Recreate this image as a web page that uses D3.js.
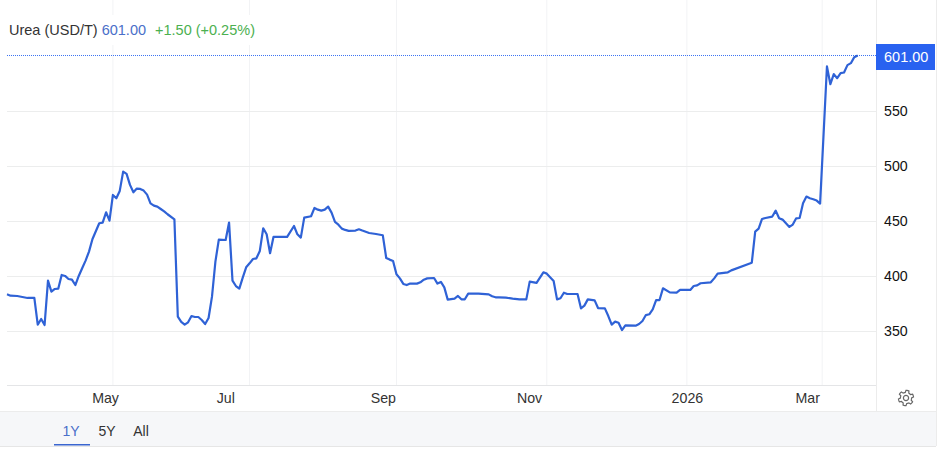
<!DOCTYPE html>
<html>
<head>
<meta charset="utf-8">
<script src="https://cdn.jsdelivr.net/npm/d3@7"></script>
<style>
  html, body { margin: 0; background: #fff; }
  svg { display: block; }
  text { font-family: "Liberation Sans", Arial, sans-serif; }
  .domain { display: none; }
  .tick line { display: none; }
</style>
</head>
<body>
<div id="chart-area"></div>
<script>
// trading session number of each vertex, and the price there
var sessions = [0,1,3,6,8,9,10,11,12,13,14,15,16,17,18,19,20,21,22,23,24,25,27,28,29,30,31,32,33,34,35,36,37,38,39,40,41,42,43,44,45,46,47,49,50,51,52,53,54,55,56,57,58,59,60,61,62,64,65,66,67,68,69,70,71,
  72,73,74,75,76,77,78,82,84,85,86,87,89,90,91,92,93,94,95,96,97,98,99,100,102,103,104,106,108,110,111,112,113,114,115,116,117,118,120,121,122,123,125,126,127,128,129,131,132,133,134,135,138,141,142,143,
  144,146,148,150,152,153,155,157,158,160,161,162,163,164,167,168,169,170,172,173,175,176,177,178,179,180,181,184,185,186,187,188,189,190,191,192,194,196,197,200,201,202,203,206,207,208,211,212,218,
  219,220,221,222,224,225,226,227,229,230,231,232,233,234,235,236,237,238,240,241,242,243,244,245,246,247,248,249];
var prices = [383,381.8,381.5,379.7,379.7,355.3,360.5,355,395.5,385.5,387.9,388.2,400.7,399.8,397,396.4,391.5,399.8,406.8,413.8,422,433.3,447.9,448.5,457.9,450.3,473.7,470.7,477.4,495,492.9,482.9,476.2,479.5,479.2,477.7,474,466.1,464,463.1,460.9,458.8,456.1,451.5,362.6,357.8,355.3,357.5,363.2,362.3,362.3,359.6,355.9,361.4,380.9,412.9,433,432.6,448.5,395.5,390.6,388.2,398.2,407.7,411.3,
  415.3,415.9,422.6,443.3,437.8,420.5,435.4,435.4,445.4,437.8,434.8,453,454.3,461.9,460.3,459.4,460.3,463.1,457.6,449.1,446.6,443,441.8,440.9,441.2,442.4,441.2,439,438.1,436.9,416.2,414.7,413.5,401.3,397.6,392.5,391.5,392.8,392.8,394,396.4,397.6,397.9,392.8,394.3,389.4,378.2,379.1,381.5,378.5,378.5,383.6,383.6,383,381.2,380.3,
  380.3,380,379.1,378.4,378.4,394.6,393.4,403.1,401.9,395.2,378.4,379.4,384.5,383.3,383.3,370.2,372.7,378.4,377.5,370.5,370.2,363.2,355.3,358.1,357.1,350.4,354.7,354.4,355.9,358.7,364.1,364.8,369.3,377.8,377.8,388.5,384.8,384.5,387,387,390.6,391.2,393.1,394,397.6,401.9,403.1,404.9,411.9,
  440.3,443,451.8,452.7,454,459.4,452.4,451.2,444.5,446.7,452.4,452.7,466.1,472.2,470.7,469.8,468.6,465.8,591,574.8,584,580.3,584.9,585.5,592.2,594,599.5,601];

var priceTicks = [350, 400, 450, 500, 550];
var lastPrice = 601;
var monthLabels = ["May", "Jul", "Sep", "Nov", "2026", "Mar"];
var labelSessions = [28.7, 63.9, 110, 152.8, 199, 234.2];
var gridSessions = [31, 71, 114, 158, 199, 238.6];
var rangeButtons = ["1Y", "5Y", "All"];

var width = 940, height = 451;
var plot = { left: 7, right: 876, top: 0, bottom: 385 };
var blue = "#2f62d6";

var svg = d3.select("#chart-area").append("svg")
    .attr("width", width)
    .attr("height", height);

var x = d3.scaleLinear().domain([0, 249]).range([7, 857.7]);
var y = d3.scaleLinear().domain([350, 601]).range([330.5, 55.5]);

// bottom band
svg.append("rect")
    .attr("x", 0).attr("y", 412)
    .attr("width", 936).attr("height", 34)
    .attr("fill", "#f6f7f9");
svg.append("line")
    .attr("x1", 0).attr("x2", 936).attr("y1", 411.5).attr("y2", 411.5)
    .attr("stroke", "#ececec");
svg.append("line")
    .attr("x1", 0).attr("x2", 936).attr("y1", 446.5).attr("y2", 446.5)
    .attr("stroke", "#e6e6e6");
svg.append("line")
    .attr("x1", 936.5).attr("x2", 936.5).attr("y1", 0).attr("y2", 446)
    .attr("stroke", "#ececec");
svg.append("line")
    .attr("x1", plot.right + 0.5).attr("x2", plot.right + 0.5).attr("y1", 0).attr("y2", 411)
    .attr("stroke", "#ececec");

// grid
svg.append("g").selectAll("line")
    .data(gridSessions)
    .enter().append("line")
    .attr("x1", function(d) { return x(d); })
    .attr("x2", function(d) { return x(d); })
    .attr("y1", plot.top)
    .attr("y2", plot.bottom)
    .attr("stroke", "#f2f3f5");

svg.append("g").selectAll("line")
    .data(priceTicks)
    .enter().append("line")
    .attr("x1", plot.left)
    .attr("x2", plot.right)
    .attr("y1", function(d) { return Math.round(y(d)) + 0.5; })
    .attr("y2", function(d) { return Math.round(y(d)) + 0.5; })
    .attr("stroke", "#eceded");

svg.append("line")
    .attr("x1", plot.left).attr("x2", plot.right)
    .attr("y1", plot.bottom + 0.5).attr("y2", plot.bottom + 0.5)
    .attr("stroke", "#e4e5e7");

// title, sits on a white patch that hides the grid
svg.append("rect")
    .attr("x", 7).attr("y", 15)
    .attr("width", 250).attr("height", 30)
    .attr("fill", "#fff");

var title = svg.append("text")
    .attr("x", 9)
    .attr("y", 35)
    .attr("font-size", "14.5px");
title.append("tspan").attr("fill", "#333").text("Urea (USD/T) ");
title.append("tspan").attr("fill", "#4a6fc9").text("601.00");
title.append("tspan").attr("fill", "#4cb050").attr("dx", 9).text("+1.50 (+0.25%)");

// last price line
svg.append("line")
    .attr("x1", plot.left).attr("x2", plot.right)
    .attr("y1", y(lastPrice)).attr("y2", y(lastPrice))
    .attr("stroke", "#3d74f2")
    .attr("stroke-width", 1)
    .attr("stroke-dasharray", "1,1");

var line = d3.line()
    .x(function(d, i) { return x(sessions[i]); })
    .y(function(d) { return y(d); });

svg.append("path")
    .attr("d", line(prices))
    .attr("fill", "none")
    .attr("stroke", blue)
    .attr("stroke-width", 2.2)
    .attr("stroke-linejoin", "round");

// axes
var xAxisCall = d3.axisBottom(x)
    .tickValues(labelSessions)
    .tickSize(0)
    .tickPadding(0)
    .tickFormat(function(d, i) { return monthLabels[i]; });

svg.append("g")
    .attr("transform", "translate(0," + 393 + ")")
    .call(xAxisCall)
  .selectAll("text")
    .attr("font-size", "14.2px")
    .attr("fill", "#333");

var yAxisCall = d3.axisRight(y)
    .tickValues(priceTicks)
    .tickSize(0)
    .tickPadding(0)
    .tickFormat(function(d) { return d; });

svg.append("g")
    .attr("transform", "translate(" + 884 + ",0)")
    .call(yAxisCall)
  .selectAll("text")
    .attr("font-size", "14.2px")
    .attr("fill", "#111");

// price tag
svg.append("rect")
    .attr("x", 876).attr("y", 44)
    .attr("width", 59).attr("height", 26)
    .attr("fill", "#2962f0");
svg.append("text")
    .attr("x", 884)
    .attr("y", 62)
    .attr("font-size", "14.5px")
    .attr("fill", "#fff")
    .text(d3.format(".2f")(lastPrice));

// range buttons
var buttonX = [71, 107, 141];
svg.append("g").selectAll("text")
    .data(rangeButtons)
    .enter().append("text")
    .attr("x", function(d, i) { return buttonX[i]; })
    .attr("y", 436)
    .attr("text-anchor", "middle")
    .attr("font-size", "14px")
    .attr("fill", function(d, i) { return i == 0 ? "#4a6fc9" : "#333"; })
    .text(function(d) { return d; });

svg.append("rect")
    .attr("x", 54).attr("y", 444)
    .attr("width", 36).attr("height", 1.5)
    .attr("fill", "#3a66d0");

// gear icon
var gearPts = d3.range(48).map(function(i) {
    var a = i / 48 * 2 * Math.PI;
    var r = (i % 8 < 4) ? 7.6 : 5.6;
    return [a, r];
});
var gear = svg.append("g").attr("transform", "translate(906,398)");
gear.append("path")
    .attr("d", d3.lineRadial().curve(d3.curveLinearClosed)(gearPts))
    .attr("fill", "none")
    .attr("stroke", "#666")
    .attr("stroke-width", 1.2);
gear.append("circle")
    .attr("r", 2.6)
    .attr("fill", "none")
    .attr("stroke", "#666")
    .attr("stroke-width", 1.2);
</script>
</body>
</html>
